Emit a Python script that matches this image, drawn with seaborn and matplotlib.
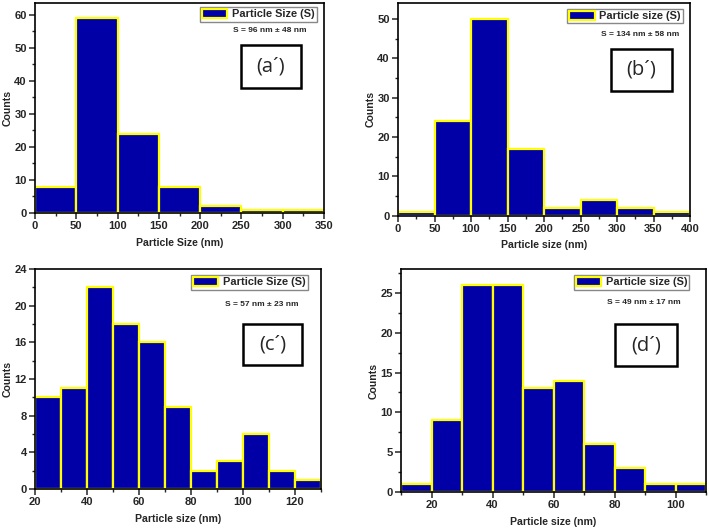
import matplotlib
matplotlib.use("Agg")
import matplotlib.pyplot as plt
from matplotlib.patches import Rectangle
from matplotlib.ticker import AutoMinorLocator, MultipleLocator
import seaborn as sns
import numpy as np
import pandas as pd

sns.set_style("ticks")
plt.rcParams['font.family'] = ['Liberation Sans', 'DejaVu Sans']

# ---- data ----
edges_a = [0, 50, 100, 150, 200, 250, 300, 350]
counts_a = [8, 59, 24, 8, 2, 1, 1]
edges_b = [0, 50, 100, 150, 200, 250, 300, 350, 400]
counts_b = [1, 24, 50, 17, 2, 4, 2, 1]
edges_c = [20, 30, 40, 50, 60, 70, 80, 90, 100, 110, 120, 130]
counts_c = [10, 11, 22, 18, 16, 9, 2, 3, 6, 2, 1]
edges_d = [10, 20, 30, 40, 50, 60, 70, 80, 90, 100, 110]
counts_d = [1, 9, 26, 26, 13, 14, 6, 3, 1, 1]

legend_labels = ["Particle Size (S)", "Particle size (S)", "Particle Size (S)", "Particle size (S)"]
xlabels = ["Particle Size (nm)", "Particle size (nm)", "Particle size (nm)", "Particle size (nm)"]
stats = ["S = 96 nm \u00b1 48 nm", "S = 134 nm \u00b1 58 nm", "S = 57 nm \u00b1 23 nm", "S = 49 nm \u00b1 17 nm"]
tags = ["(a\u00b4)", "(b\u00b4)", "(c\u00b4)", "(d\u00b4)"]

BAR = "#0000A6"

fig = plt.figure(figsize=(7.09, 5.31), dpi=100)

panels = [
    dict(edges=edges_a, counts=counts_a, rect=[0.0494, 0.5989, 0.4076, 0.3955],
         xlim=(0, 350), ylim=(0, 63.6), xmaj=50, ymaj=10,
         leg=(0.571, 0.981), st=(0.813, 0.871), box=(0.713, 0.595, 0.920, 0.80)),
    dict(edges=edges_b, counts=counts_b, rect=[0.5614, 0.5938, 0.4118, 0.4006],
         xlim=(0, 400), ylim=(0, 54.1), xmaj=50, ymaj=10,
         leg=(0.579, 0.972), st=(0.83, 0.854), box=(0.729, 0.586, 0.938, 0.784)),
    dict(edges=edges_c, counts=counts_c, rect=[0.0494, 0.0791, 0.4034, 0.4143],
         xlim=(20, 130), ylim=(0, 24), xmaj=20, ymaj=4,
         leg=(0.545, 0.973), st=(0.794, 0.84), box=(0.727, 0.564, 0.934, 0.75)),
    dict(edges=edges_d, counts=counts_d, rect=[0.5656, 0.0734, 0.4302, 0.42],
         xlim=(10, 110), ylim=(0, 28), xmaj=20, ymaj=5,
         leg=(0.567, 0.973), st=(0.797, 0.852), box=(0.702, 0.565, 0.905, 0.753)),
]

for i, p in enumerate(panels):
    ax = fig.add_axes(p["rect"])
    e = [float(v) for v in p["edges"]]
    centers = [(e[k] + e[k + 1]) / 2 for k in range(len(e) - 1)]
    df = pd.DataFrame({"size": centers, "count": p["counts"]})
    sns.histplot(data=df, x="size", weights="count", bins=e, ax=ax, color=BAR,
                 edgecolor="#FFFF00", linewidth=1.6, alpha=1, label=legend_labels[i])
    ax.set_xlim(*p["xlim"])
    ax.set_ylim(*p["ylim"])
    if i == 3:
        ax.set_xticks([20, 40, 60, 80, 100])
    else:
        ax.xaxis.set_major_locator(MultipleLocator(p["xmaj"]))
    ax.yaxis.set_major_locator(MultipleLocator(p["ymaj"]))
    ax.xaxis.set_minor_locator(AutoMinorLocator(2))
    ax.yaxis.set_minor_locator(AutoMinorLocator(2))
    ax.tick_params(which="major", direction="out", length=4, width=1.1, labelsize=8, pad=2)
    ax.tick_params(which="minor", direction="out", length=2.5, width=1)
    for lab in ax.get_xticklabels() + ax.get_yticklabels():
        lab.set_fontweight("bold")
    for s in ax.spines.values():
        s.set_visible(True)
        s.set_linewidth(1.2)
        s.set_color("black")
    ax.set_xlabel(xlabels[i], fontsize=7.6, fontweight="bold", labelpad=4.5)
    ax.set_ylabel("Counts", fontsize=7.6, fontweight="bold", labelpad=1)

    lx, ly = p["leg"]
    leg = ax.legend(loc="upper left", bbox_to_anchor=(lx, ly), borderaxespad=0,
                    prop=dict(weight="bold", size=7.9), fancybox=False, frameon=True,
                    edgecolor="#888888", framealpha=1, handlelength=2.3, handleheight=0.85,
                    borderpad=0.2, handletextpad=0.4)
    leg.get_frame().set_linewidth(1.0)

    ax.text(p["st"][0], p["st"][1], stats[i], transform=ax.transAxes, ha="center",
            va="center", fontsize=6, fontweight="bold")
    bx0, by0, bx1, by1 = p["box"]
    ax.add_patch(Rectangle((bx0, by0), bx1 - bx0, by1 - by0, transform=ax.transAxes,
                           fill=False, edgecolor="black", linewidth=1.8, zorder=5))
    ax.text((bx0 + bx1) / 2, (by0 + by1) / 2, tags[i], transform=ax.transAxes,
            ha="center", va="center", fontsize=14.5, zorder=6,
            family=["Open Sans", "DejaVu Sans"])

fig.savefig("out.png", dpi=100)
